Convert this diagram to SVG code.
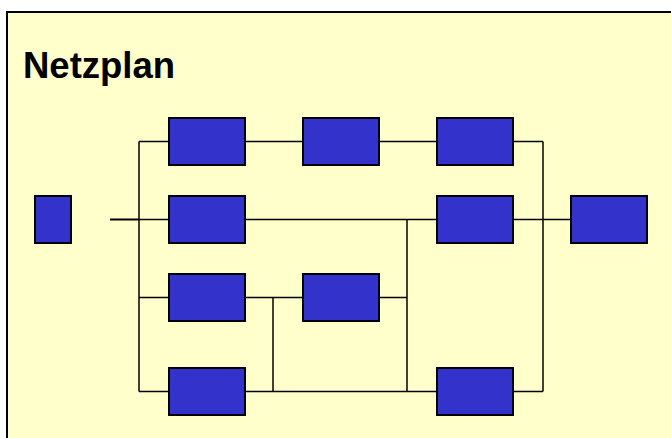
<svg xmlns="http://www.w3.org/2000/svg" width="671" height="438" viewBox="0 0 671 438">
  <style>
    .task { fill: #3333CC; stroke: #000; stroke-width: 2; }
    .wire { fill: none; stroke: #000; stroke-width: 1.5; }
    .wire.bold { stroke-width: 2; }
    .title { font-family: "Liberation Sans", Arial, sans-serif; font-weight: bold; font-size: 36.5px; fill: #000; }
  </style>

  <!-- page -->
  <rect x="0" y="0" width="671" height="438" fill="#FFFFFF"/>
  <rect x="7" y="12" width="680" height="440" fill="#FFFFCC" stroke="#000" stroke-width="2"/>
  <text class="title" x="23" y="78">Netzplan</text>

  <!-- connectors -->
  <g id="connectors">
    <!-- start feed -->
    <line class="wire bold" x1="110" y1="219.5" x2="139" y2="219.5"/>
    <!-- left bus -->
    <line class="wire" x1="139" y1="141.5" x2="139" y2="391.5"/>
    <line class="wire" x1="139" y1="141.5" x2="169" y2="141.5"/>
    <line class="wire" x1="139" y1="219.5" x2="169" y2="219.5"/>
    <line class="wire" x1="139" y1="297.5" x2="169" y2="297.5"/>
    <line class="wire" x1="139" y1="391.5" x2="169" y2="391.5"/>
    <!-- row 1 -->
    <line class="wire" x1="245" y1="141.5" x2="303" y2="141.5"/>
    <line class="wire" x1="379" y1="141.5" x2="437" y2="141.5"/>
    <line class="wire" x1="513" y1="141.5" x2="543" y2="141.5"/>
    <!-- row 2 -->
    <line class="wire" x1="245" y1="219.5" x2="437" y2="219.5"/>
    <line class="wire" x1="513" y1="219.5" x2="571" y2="219.5"/>
    <!-- row 3 -->
    <line class="wire" x1="245" y1="297.5" x2="303" y2="297.5"/>
    <line class="wire" x1="379" y1="297.5" x2="407" y2="297.5"/>
    <line class="wire" x1="273" y1="297.5" x2="273" y2="391.5"/>
    <!-- row 4 -->
    <line class="wire" x1="245" y1="391.5" x2="437" y2="391.5"/>
    <line class="wire" x1="513" y1="391.5" x2="543" y2="391.5"/>
    <!-- merge at x=407 -->
    <line class="wire" x1="407" y1="219.5" x2="407" y2="391.5"/>
    <!-- right bus -->
    <line class="wire" x1="543" y1="141.5" x2="543" y2="391.5"/>
  </g>

  <!-- tasks -->
  <g id="start"><rect class="task" x="35" y="196" width="36" height="47"/></g>
  <g id="a1"><rect class="task" x="169" y="118" width="76" height="47"/></g>
  <g id="a2"><rect class="task" x="303" y="118" width="76" height="47"/></g>
  <g id="a3"><rect class="task" x="437" y="118" width="76" height="47"/></g>
  <g id="b1"><rect class="task" x="169" y="196" width="76" height="47"/></g>
  <g id="b2"><rect class="task" x="437" y="196" width="76" height="47"/></g>
  <g id="end"><rect class="task" x="571" y="196" width="76" height="47"/></g>
  <g id="c1"><rect class="task" x="169" y="274" width="76" height="47"/></g>
  <g id="c2"><rect class="task" x="303" y="274" width="76" height="47"/></g>
  <g id="d1"><rect class="task" x="169" y="368" width="76" height="47"/></g>
  <g id="d2"><rect class="task" x="437" y="368" width="76" height="47"/></g>
</svg>
